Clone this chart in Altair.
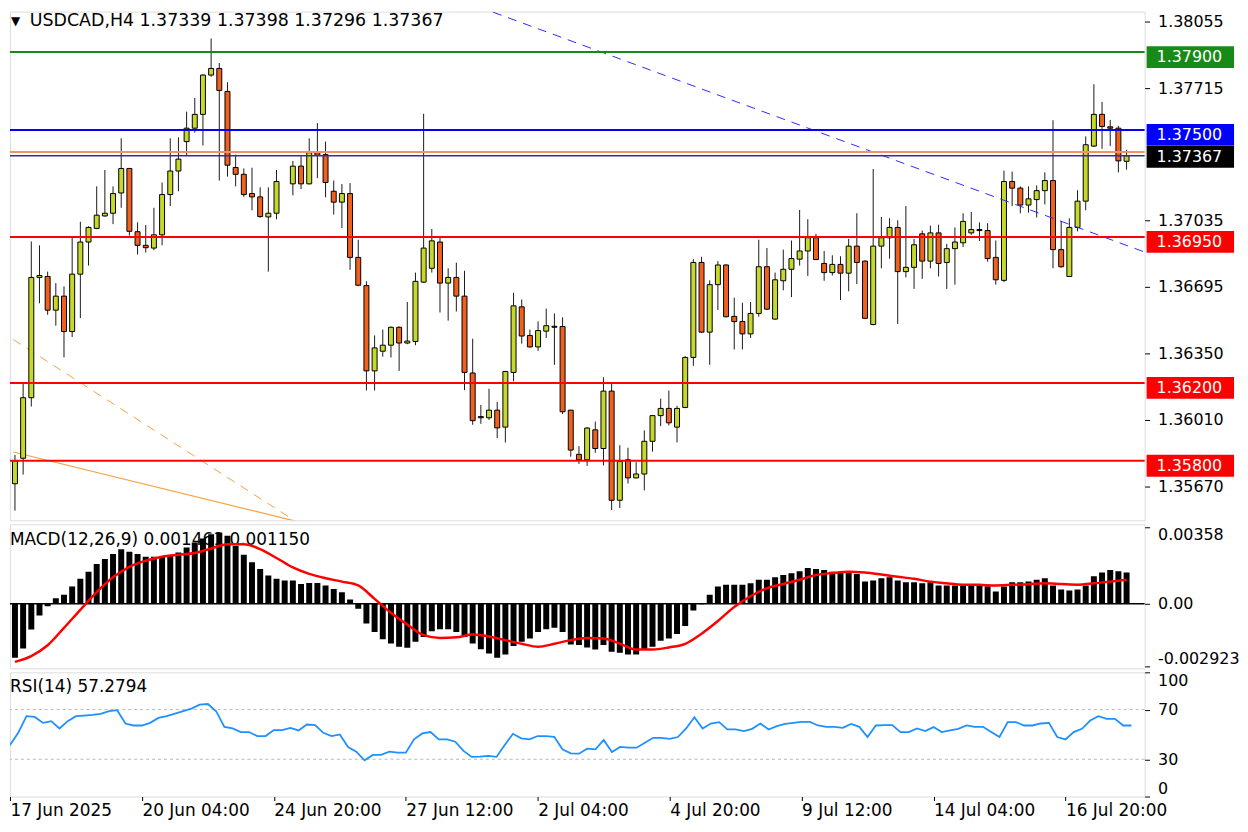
import altair as alt
import pandas as pd

# ---------------- data ----------------
opens = [1.35682,1.35813,1.36124,1.36742,1.36747,1.36574,1.36646,1.36464,1.36759,1.36924,
         1.36994,1.37058,1.37072,1.37176,1.37302,1.36977,1.36907,1.36893,1.36961,1.37168,
         1.37289,1.37440,1.37509,1.37580,1.37782,1.37816,1.37698,1.37307,1.37272,1.37173,
         1.37156,1.37053,1.37072,None,1.37223,1.37314,1.37223,1.37383,1.37373,1.37185,
         1.37129,1.37173,1.36845,1.36700,1.36262,1.36363,1.36394,1.36486,1.36405,1.36413,
         1.36718,1.36789,1.36924,1.36713,1.36742,1.36646,1.36251,1.36027,1.36021,1.36060,
         1.35973,1.36254,1.36591,1.36444,1.36385,1.36466,1.36491,1.36490,1.36060,1.35833,
         1.35805,1.35959,1.35863,1.36158,1.35597,1.35805,1.35712,1.35732,1.35900,1.36032,
         1.36069,1.35973,1.36074,1.36331,1.36819,1.36461,1.36705,1.36806,1.36542,1.36516,
         1.36452,1.36557,1.36797,1.36528,1.36725,1.36784,1.36836,1.36878,1.36946,1.36814,
         1.36767,1.36809,1.36764,1.36903,1.36826,1.36500,1.36903,1.36946,1.36999,1.36772,
         1.36794,1.36966,1.36826,1.36971,1.36819,1.36890,1.36920,1.36971,1.36988,1.36983,
         1.36845,1.36727,1.37235,1.37201,1.37114,1.37142,1.37188,1.37240,1.36885,1.36747,
         1.36999,1.37134,1.37417,1.37580,1.37516,1.37509,1.37339]
highs = [1.35830,1.36200,1.36927,1.36907,1.36772,1.36713,1.36696,1.36946,1.37028,1.37005,
         1.37210,1.37294,1.37210,1.37457,1.37305,1.37025,1.37011,1.37100,1.37230,1.37457,
         1.37462,1.37594,1.37664,1.37786,1.37970,1.37844,1.37745,1.37373,1.37302,1.37306,
         1.37205,1.37205,1.37294,None,1.37341,1.37366,1.37457,1.37535,1.37440,1.37240,
         1.37222,1.37227,1.36936,1.36722,1.36444,1.36474,1.36490,1.36490,1.36616,1.36767,
         1.37583,1.36991,1.36946,1.36789,1.36818,1.36776,1.36427,1.36087,1.36170,1.36102,
         1.36262,1.36663,1.36629,1.36474,1.36516,1.36582,1.36557,1.36537,1.36062,1.35875,
         1.35973,1.36001,1.36229,1.36200,1.35880,1.35867,1.35793,1.35956,1.36035,1.36119,
         1.36161,1.36082,1.36338,1.36836,1.36848,1.36727,1.36826,1.36810,1.36638,1.36612,
         1.36616,1.36936,1.36893,1.36767,1.36885,1.36932,1.37089,1.37041,1.36966,1.36878,
         1.36856,1.36851,1.36940,1.37072,1.36830,1.37299,1.37053,1.37046,1.37036,1.37109,
         1.36940,1.36983,1.37008,1.37013,1.36915,1.36999,1.37072,1.37078,1.37025,1.37021,
         1.36932,1.37291,1.37286,1.37210,1.37210,1.37215,1.37282,1.37550,1.37033,1.37046,
         1.37190,1.37467,1.37735,1.37644,1.37551,1.37521,1.37398]
lows = [1.35544,1.35729,1.36079,1.36609,1.36550,1.36494,1.36331,1.36436,1.36533,1.36803,
        1.36990,1.37055,1.37016,1.37100,1.36957,1.36860,1.36870,1.36882,1.36907,1.37109,
        1.37185,1.37366,1.37486,1.37420,1.37773,1.37240,1.37260,1.37210,1.37156,1.37087,
        1.37048,1.36772,1.37041,None,1.37164,1.37196,1.37220,1.37252,1.37154,1.37065,
        1.36996,1.36781,1.36697,1.36161,1.36161,1.36335,1.36331,1.36262,1.36399,1.36394,
        1.36713,1.36767,1.36562,1.36520,1.36567,1.36163,1.35985,1.35990,1.36010,1.35917,
        1.35894,1.36208,1.36402,1.36382,1.36365,1.36431,1.36293,1.36040,1.35821,1.35784,
        1.35774,1.35841,1.35776,1.35547,1.35557,1.35683,1.35709,1.35648,1.35847,1.35978,
        1.35981,1.35894,1.36070,1.36288,1.36456,1.36293,1.36575,1.36537,1.36372,1.36372,
        1.36431,1.36540,1.36574,1.36525,1.36676,1.36641,1.36803,1.36750,1.36831,1.36725,
        1.36752,1.36626,1.36671,1.36708,1.36528,1.36496,1.36789,1.36839,1.36503,1.36742,
        1.36683,1.36735,1.36789,1.36747,1.36683,1.36705,1.36898,1.36961,1.36929,1.36823,
        1.36705,1.36718,1.37109,1.37072,1.37075,1.37050,1.37117,1.36789,1.36792,1.36745,
        1.36979,1.37087,1.37412,1.37403,1.37417,1.37282,1.37296]
closes = [1.35799,1.36124,1.36742,1.36752,1.36574,1.36646,1.36464,1.36759,1.36924,1.36999,
          1.37062,1.37072,1.37173,1.37302,1.36979,1.36907,1.36895,1.36961,1.37168,1.37289,
          1.37350,1.37509,1.37580,1.37782,1.37816,1.37703,1.37319,1.37272,1.37168,1.37156,
          1.37055,1.37072,1.37235,None,1.37314,1.37223,1.37383,1.37370,1.37230,1.37129,
          1.37173,1.36845,1.36702,1.36262,1.36380,1.36394,1.36486,1.36405,1.36415,1.36722,
          1.36893,1.36930,1.36713,1.36742,1.36646,1.36254,1.36006,1.36021,1.36060,1.35969,
          1.36259,1.36596,1.36441,1.36385,1.36469,1.36494,1.36486,1.36052,1.35855,1.35805,
          1.35968,1.35863,1.36158,1.35597,1.35796,1.35712,1.35732,1.35900,1.36032,1.36069,
          1.35995,1.36069,1.36331,1.36819,1.36461,1.36705,1.36806,1.36540,1.36515,1.36452,
          1.36557,1.36797,1.36579,1.36730,1.36784,1.36839,1.36878,1.36946,1.36834,1.36767,
          1.36809,1.36764,1.36903,1.36819,1.36532,1.36903,1.36946,1.36999,1.36772,1.36794,
          1.36910,1.36826,1.36971,1.36814,1.36890,1.36924,1.37030,1.36988,1.36983,1.36839,
          1.36730,1.37235,1.37201,1.37114,1.37146,1.37188,1.37240,1.36885,1.36797,1.36999,
          1.37134,1.37424,1.37580,1.37518,1.37509,1.37341,1.37367]

macd_hist = [-0.00251,-0.00208,-0.00120,-0.00054,-0.00012,0.00026,0.00042,0.00080,0.00116,0.00149,
             0.00185,0.00208,0.00231,0.00254,0.00242,0.00231,0.00219,0.00219,0.00219,0.00223,
             0.00239,0.00262,0.00285,0.00303,0.00323,0.00331,0.00316,0.00270,0.00228,0.00193,
             0.00162,0.00131,0.00116,0.00108,0.00108,0.00092,0.00097,0.00097,0.00085,0.00069,
             0.00054,0.00020,-0.00023,-0.00092,-0.00131,-0.00165,-0.00185,-0.00200,-0.00205,-0.00177,
             -0.00154,-0.00128,-0.00119,-0.00119,-0.00131,-0.00154,-0.00185,-0.00211,-0.00231,-0.00251,
             -0.00236,-0.00196,-0.00177,-0.00162,-0.00131,-0.00119,-0.00112,-0.00131,-0.00189,-0.00192,
             -0.00203,-0.00213,-0.00192,-0.00223,-0.00228,-0.00236,-0.00236,-0.00213,-0.00200,-0.00172,
             -0.00162,-0.00140,-0.00103,-0.00031,-0.00002,0.00042,0.00080,0.00089,0.00089,0.00089,
             0.00095,0.00112,0.00112,0.00123,0.00134,0.00142,0.00151,0.00166,0.00162,0.00157,
             0.00149,0.00146,0.00146,0.00139,0.00103,0.00108,0.00119,0.00123,0.00108,0.00100,
             0.00100,0.00095,0.00100,0.00085,0.00085,0.00085,0.00085,0.00085,0.00085,0.00082,
             0.00057,0.00080,0.00100,0.00100,0.00103,0.00112,0.00119,0.00085,0.00066,0.00062,
             0.00066,0.00085,0.00128,0.00146,0.00157,0.00151,0.00146]

signal_bars = list(range(0, 137, 2))
signal_vals = [-0.00270,-0.00243,-0.00193,-0.00112,-0.00028,0.00054,0.00123,0.00172,0.00200,0.00219,
               0.00228,0.00236,0.00257,0.00277,0.00277,0.00254,0.00213,0.00169,0.00139,0.00119,
               0.00103,0.00085,0.00023,-0.00042,-0.00097,-0.00146,-0.00159,-0.00156,-0.00143,-0.00152,
               -0.00169,-0.00186,-0.00200,-0.00186,-0.00169,-0.00159,-0.00162,-0.00185,-0.00213,-0.00213,
               -0.00203,-0.00186,-0.00139,-0.00080,-0.00015,0.00035,0.00072,0.00092,0.00112,0.00134,
               0.00143,0.00149,0.00145,0.00136,0.00126,0.00116,0.00103,0.00095,0.00089,0.00088,
               0.00085,0.00088,0.00091,0.00095,0.00092,0.00089,0.00095,0.00103,0.00112]

rsi_vals = [41.5,51.3,64.7,64.1,59.3,60.7,54.8,60.7,64.7,65.2,
            65.7,66.5,68.7,69.5,58.8,57.2,57.2,59.3,63.3,64.7,
            66.8,68.7,70.8,74.0,74.5,68.7,56.1,54.8,51.9,51.9,
            48.7,48.7,53.5,53.5,55.3,53.2,58.0,57.5,51.3,48.7,
            50.0,39.9,36.1,29.2,33.5,33.5,36.1,35.3,35.3,46.0,
            50.8,51.9,46.0,46.0,44.1,36.7,31.9,32.1,32.7,31.9,
            41.5,50.5,46.8,46.0,48.7,48.7,48.1,38.0,34.8,34.5,
            38.5,38.0,45.5,35.9,39.9,39.3,39.3,43.3,47.3,47.3,
            46.5,47.9,54.8,63.9,54.8,58.8,59.9,54.0,54.0,52.7,
            54.5,58.8,54.0,56.7,58.5,59.3,60.1,60.1,57.2,56.1,
            56.1,55.3,58.5,56.1,47.9,57.2,57.5,57.5,51.9,51.9,
            54.8,52.7,55.9,51.9,53.2,54.5,57.2,56.1,56.1,51.9,
            47.9,59.9,59.9,57.2,57.2,58.8,59.3,47.9,46.0,51.9,
            54.5,61.2,64.7,62.5,62.5,57.2,57.2]

tick_bars = [0, 16, 32, 48, 64, 80, 96, 112, 128]
tick_labels = ["17 Jun 2025", "20 Jun 04:00", "24 Jun 20:00", "27 Jun 12:00", "2 Jul 04:00",
               "4 Jul 20:00", "9 Jul 12:00", "14 Jul 04:00", "16 Jul 20:00"]
price_ticks = [1.38055, 1.37715, 1.37035, 1.36695, 1.36350, 1.36010, 1.35670]
level_prices = [1.37900, 1.37500, 1.36950, 1.36200, 1.35800]
level_colors = ["#178a17", "#0000ff", "#ff0000", "#ff0000", "#ff0000"]
bid_price = 1.37367
ask_price = 1.37387
macd_ticks = [0.00358, 0.0, -0.002923]
macd_tick_labels = ["0.00358", "0.00", "-0.002923"]
rsi_ticks = [100, 70, 30, 0]
rsi_levels = [70, 30]
blue_trend_x = [58.5, 138.5]
blue_trend_p = [1.38105, 1.36868]
orange_dash_x = [-0.2, 34.3]
orange_dash_p = [1.36423, 1.35490]
orange_solid_x = [-0.2, 34.3]
orange_solid_p = [1.35845, 1.35490]
header = "USDCAD,H4  1.37339 1.37398 1.37296 1.37367"
macd_title = "MACD(12,26,9) 0.001461 0.001150"
rsi_title = "RSI(14) 57.2794"

# ---------------- layout ----------------
W = 1142
PH, MH, RH = 512, 145, 125
FONT = "DejaVu Sans"
FS_AX = 16
FS_HDR = 17.5
FS_TTL = 17
FS_X = 17
BULL = "#c6d82b"
BEAR = "#f0601e"

rows = []
for i in range(len(opens)):
    if opens[i] is None:
        continue
    rows.append({"i": i, "o": opens[i], "h": highs[i], "l": lows[i], "c": closes[i],
                 "dir": "up" if closes[i] >= opens[i] else "down"})
cdf = pd.DataFrame(rows)

xsc = alt.Scale(domain=[0, 137.6], nice=False, zero=False)
psc = alt.Scale(domain=[1.35494, 1.38108], nice=False, zero=False)
msc = alt.Scale(domain=[-0.003003, 0.003696], nice=False, zero=False)
rsc = alt.Scale(domain=[0, 100], nice=False, zero=False)

common_axis = dict(title=None, grid=False, domain=False, tickSize=5, labelPadding=8,
                   labelFontSize=FS_AX, labelFont=FONT, labelColor="black", tickColor="black")
paxis = alt.Axis(orient="right", values=price_ticks, format=".5f", **common_axis)
mexpr = " : ".join([f"datum.value == {v} ? '{l}'" for v, l in zip(macd_ticks[:-1], macd_tick_labels[:-1])]) \
        + f" : '{macd_tick_labels[-1]}'"
maxis = alt.Axis(orient="right", values=macd_ticks, labelExpr=mexpr, labelFlush=5, **common_axis)
raxis = alt.Axis(orient="right", values=rsi_ticks, labelFlush=True, **common_axis)
xexpr = " : ".join([f"datum.value == {b} ? '{l}'" for b, l in zip(tick_bars, tick_labels)]) + " : ''"
xaxis = alt.Axis(values=tick_bars, labelExpr=xexpr, labelAlign="left", labelFlush=False,
                 labelOverlap=False, title=None, grid=False, domain=False, tickSize=4,
                 labelPadding=2, labelFontSize=FS_X, labelFont=FONT, labelColor="black",
                 tickColor="black")

X = alt.X("i:Q", scale=xsc, axis=None)

# ---------------- price panel ----------------
wicks = alt.Chart(cdf).mark_rule(color="#1a1a1a", strokeWidth=1, clip=True).encode(
    x=X, y=alt.Y("l:Q", scale=psc, axis=paxis), y2="h:Q")
bodies = alt.Chart(cdf).mark_bar(width=5, stroke="#000", strokeWidth=1, clip=True).encode(
    x=X, y=alt.Y("o:Q", scale=psc, axis=paxis), y2="c:Q",
    color=alt.Color("dir:N", scale=alt.Scale(domain=["up", "down"], range=[BULL, BEAR]), legend=None))

lvl = pd.DataFrame({"p": level_prices, "col": level_colors,
                    "lab": [f"{p:.5f}" for p in level_prices]})
lvl_lines = alt.Chart(lvl).mark_rule(strokeWidth=2).encode(
    y=alt.Y("p:Q", scale=psc, axis=paxis), color=alt.Color("col:N", scale=None))
lvl_boxes = alt.Chart(lvl).mark_rect(yOffset=-6, y2Offset=16).encode(
    x=alt.value(W + 2), x2=alt.value(W + 90),
    y=alt.Y("p:Q", scale=psc, axis=paxis), y2="p:Q", color=alt.Color("col:N", scale=None))
lvl_text = alt.Chart(lvl).mark_text(align="left", baseline="middle", dy=5, color="white",
                                    font=FONT, fontSize=FS_AX).encode(
    x=alt.value(W + 12), y=alt.Y("p:Q", scale=psc, axis=paxis), text="lab:N")

cur = pd.DataFrame({"p": [bid_price], "lab": [f"{bid_price:.5f}"]})
ask = pd.DataFrame({"p": [ask_price]})
ask_line = alt.Chart(ask).mark_rule(color="#f4906a", strokeWidth=2).encode(
    y=alt.Y("p:Q", scale=psc, axis=paxis))
bid_line = alt.Chart(cur).mark_rule(color="#32328c", strokeWidth=1.5).encode(
    y=alt.Y("p:Q", scale=psc, axis=paxis))
bid_box = alt.Chart(cur).mark_rect(yOffset=-10, y2Offset=12, color="black").encode(
    x=alt.value(W + 2), x2=alt.value(W + 90),
    y=alt.Y("p:Q", scale=psc, axis=paxis), y2="p:Q")
bid_text = alt.Chart(cur).mark_text(align="left", baseline="middle", dy=1, color="white",
                                    font=FONT, fontSize=FS_AX).encode(
    x=alt.value(W + 12), y=alt.Y("p:Q", scale=psc, axis=paxis), text="lab:N")

bt = pd.DataFrame({"i": blue_trend_x, "p": blue_trend_p})
od = pd.DataFrame({"i": orange_dash_x, "p": orange_dash_p})
osl = pd.DataFrame({"i": orange_solid_x, "p": orange_solid_p})
blue_tr = alt.Chart(bt).mark_line(color="#2a2aff", strokeWidth=1, strokeDash=[9, 7], clip=True).encode(
    x=X, y=alt.Y("p:Q", scale=psc, axis=paxis))
or_dash = alt.Chart(od).mark_line(color="#f8a040", strokeWidth=1, strokeDash=[9, 7], clip=True).encode(
    x=X, y=alt.Y("p:Q", scale=psc, axis=paxis))
or_solid = alt.Chart(osl).mark_line(color="#f8a040", strokeWidth=1.2, clip=True).encode(
    x=X, y=alt.Y("p:Q", scale=psc, axis=paxis))

hdr = alt.Chart(pd.DataFrame({"t": [header]})).mark_text(
    align="left", baseline="middle", font=FONT, fontSize=FS_HDR, color="black").encode(
    x=alt.value(20), y=alt.value(9), text="t:N")
tri = alt.Chart(pd.DataFrame({"t": ["\u25bc"]})).mark_text(
    align="left", baseline="middle", font=FONT, fontSize=12, color="black").encode(
    x=alt.value(1), y=alt.value(9), text="t:N")

price = alt.layer(or_dash, or_solid, wicks, bodies, blue_tr, lvl_lines, ask_line, bid_line,
                  lvl_boxes, lvl_text, bid_box, bid_text, hdr, tri).properties(width=W, height=PH)

# ---------------- MACD panel ----------------
mdf = pd.DataFrame({"i": list(range(len(macd_hist))), "m": macd_hist})
sdf = pd.DataFrame({"i": signal_bars, "s": signal_vals})
zdf = pd.DataFrame({"z": [0.0]})
mtitle = alt.Chart(pd.DataFrame({"t": [macd_title]})).mark_text(
    align="left", baseline="middle", font=FONT, fontSize=FS_TTL, color="black").encode(
    x=alt.value(0), y=alt.value(16), text="t:N")
hist = alt.Chart(mdf).mark_bar(width=6, color="black", clip=True).encode(
    x=X, y=alt.Y("m:Q", scale=msc, axis=maxis), y2=alt.Y2(datum=0))
zero = alt.Chart(zdf).mark_rule(color="black", strokeWidth=1.5).encode(
    y=alt.Y("z:Q", scale=msc, axis=maxis))
sig = alt.Chart(sdf).mark_line(color="#ff0000", strokeWidth=2.5, interpolate="monotone", clip=True).encode(
    x=X, y=alt.Y("s:Q", scale=msc, axis=maxis))
macd = alt.layer(mtitle, hist, zero, sig).properties(width=W, height=MH)

# ---------------- RSI panel ----------------
XR = alt.X("i:Q", scale=xsc, axis=xaxis)
rdf = pd.DataFrame({"i": list(range(len(rsi_vals))), "r": rsi_vals})
rl = pd.DataFrame({"v": rsi_levels})
rlev = alt.Chart(rl).mark_rule(color="#b8b8b8", strokeWidth=1, strokeDash=[3, 3]).encode(
    y=alt.Y("v:Q", scale=rsc, axis=raxis))
rline = alt.Chart(rdf).mark_line(color="#1e90ff", strokeWidth=1.8, clip=True).encode(
    x=XR, y=alt.Y("r:Q", scale=rsc, axis=raxis))
rtitle = alt.Chart(pd.DataFrame({"t": [rsi_title]})).mark_text(
    align="left", baseline="middle", font=FONT, fontSize=FS_TTL, color="black").encode(
    x=alt.value(0), y=alt.value(15), text="t:N")
rsi = alt.layer(rlev, rline, rtitle).properties(width=W, height=RH)

chart = alt.vconcat(price, macd, rsi, spacing=4, bounds="flush").properties(
    padding={"left": 0, "top": 0, "right": 0, "bottom": 0},
    background="white"
).configure_view(stroke="#000000", strokeWidth=1).configure(font=FONT)

chart.save("out.html", embed_options={"renderer": "svg", "actions": False})
